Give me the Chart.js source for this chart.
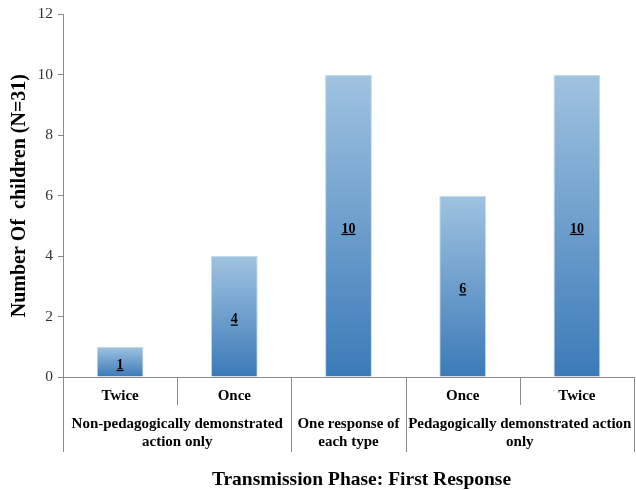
<!DOCTYPE html>
<html>
<head>
<meta charset="utf-8">
<title>First Response by Transmission Phase</title>
<script src="https://cdn.jsdelivr.net/npm/chart.js@4/dist/chart.umd.min.js"></script>
<style>
  html, body { margin: 0; padding: 0; background: #ffffff; }
  #wrap { width: 636px; height: 490px; }
</style>
</head>
<body>
<div id="wrap"><canvas id="chart" width="636" height="490"></canvas></div>
<script>
// Response categories along the x axis
const categories = ['Twice', 'Once', '', 'Once', 'Twice'];
// Number of children giving each first response
const childCounts = [1, 4, 10, 6, 10];
// Second-level groups and how many categories each spans
const groupLabels = [
  ['Non-pedagogically demonstrated', 'action only'],
  ['One response of', 'each type'],
  ['Pedagogically demonstrated action', 'only']
];
const groupSpans = [2, 1, 2];
// Y axis ticks
const yTicks = [0, 2, 4, 6, 8, 10, 12];

const SERIF = '"Liberation Serif", "Times New Roman", serif';
const AXIS_GRAY = '#8a8a8a';

// Draws the two-level category separators, group names, axis title and value labels
const groupAxisPlugin = {
  id: 'groupAxis',
  afterDraw(chart) {
    const { ctx, chartArea } = chart;
    const x = chart.scales.x;
    const axisY = chartArea.bottom;
    const n = categories.length;
    const centers = categories.map((_, i) => x.getPixelForValue(i));
    const step = n > 1 ? centers[1] - centers[0] : chartArea.right - chartArea.left;
    const edge = i => (i === 0 ? chartArea.left : (i === n ? chartArea.right : centers[i] - step / 2));

    // group boundaries
    const groupEdges = [0];
    groupSpans.forEach(s => groupEdges.push(groupEdges[groupEdges.length - 1] + s));

    ctx.save();
    ctx.strokeStyle = AXIS_GRAY;
    ctx.lineWidth = 1;
    for (let i = 0; i <= n; i++) {
      const isGroupEdge = groupEdges.includes(i);
      const px = Math.round(edge(i)) + 0.5;
      ctx.beginPath();
      ctx.moveTo(px, axisY);
      ctx.lineTo(px, axisY + (isGroupEdge ? 75 : 28));
      ctx.stroke();
    }

    // group names
    ctx.fillStyle = '#000';
    ctx.font = 'bold 15px ' + SERIF;
    ctx.textAlign = 'center';
    ctx.textBaseline = 'middle';
    groupLabels.forEach((lines, g) => {
      const cx = (edge(groupEdges[g]) + edge(groupEdges[g + 1])) / 2;
      lines.forEach((line, k) => {
        ctx.fillText(line, cx, axisY + 47.5 + k * 17.5);
      });
    });

    // x axis title
    ctx.font = 'bold 19.5px ' + SERIF;
    ctx.fillText('Transmission Phase: First Response', (chartArea.left + chartArea.right) / 2 + 13, 480);
    ctx.restore();
  },
  afterDatasetsDraw(chart) {
    const { ctx } = chart;
    const meta = chart.getDatasetMeta(0);
    ctx.save();
    ctx.fillStyle = '#000';
    ctx.strokeStyle = '#000';
    ctx.font = 'bold 14px ' + SERIF;
    ctx.textAlign = 'center';
    ctx.textBaseline = 'alphabetic';
    meta.data.forEach((bar, i) => {
      const txt = String(childCounts[i]);
      const mid = (bar.y + bar.base) / 2;
      ctx.fillText(txt, bar.x, mid + 7);
      const w = ctx.measureText(txt).width;
      ctx.lineWidth = 1.3;
      ctx.beginPath();
      ctx.moveTo(bar.x - w / 2, mid + 8.8);
      ctx.lineTo(bar.x + w / 2, mid + 8.8);
      ctx.stroke();
    });
    ctx.restore();
  }
};

new Chart(document.getElementById('chart'), {
  type: 'bar',
  data: {
    labels: categories,
    datasets: [{
      data: childCounts,
      backgroundColor(context) {
        const chart = context.chart;
        const { chartArea, scales } = chart;
        if (!chartArea || !scales.y) return '#6d9ccc';
        const top = scales.y.getPixelForValue(context.raw);
        const bottom = scales.y.getPixelForValue(0);
        const g = chart.ctx.createLinearGradient(0, top, 0, bottom);
        g.addColorStop(0, '#a0c3e0');
        g.addColorStop(1, '#3b7ab8');
        return g;
      },
      borderColor: 'rgba(190, 213, 234, 0.9)',
      borderWidth: 1,
      barPercentage: 0.41,
      categoryPercentage: 1.0
    }]
  },
  options: {
    responsive: false,
    animation: false,
    devicePixelRatio: 1,
    layout: { padding: { top: 13, right: 2, left: 0, bottom: 0 } },
    plugins: {
      legend: { display: false },
      tooltip: { enabled: false },
      title: { display: false }
    },
    scales: {
      x: {
        type: 'category',
        offset: true,
        grid: { display: false, drawTicks: false },
        border: { display: true, color: AXIS_GRAY, width: 1 },
        ticks: {
          color: '#000',
          font: { family: SERIF, size: 15, weight: 'bold' },
          padding: 10,
          maxRotation: 0,
          autoSkip: false
        },
        afterFit(scale) { scale.height = 113; }
      },
      y: {
        min: 0,
        max: 12,
        afterBuildTicks(scale) { scale.ticks = yTicks.map(v => ({ value: v })); },
        grid: { drawOnChartArea: false, drawTicks: true, tickLength: 5, color: AXIS_GRAY },
        border: { display: true, color: AXIS_GRAY, width: 1 },
        ticks: {
          color: '#333',
          font: { family: SERIF, size: 15.5 },
          padding: 5
        },
        title: {
          display: true,
          text: 'Number Of  children (N=31)',
          color: '#000',
          font: { family: SERIF, size: 20, weight: 'bold' },
          padding: { top: 8, bottom: 0 }
        },
        afterFit(scale) { scale.width = 63; }
      }
    }
  },
  plugins: [groupAxisPlugin]
});
</script>
</body>
</html>
